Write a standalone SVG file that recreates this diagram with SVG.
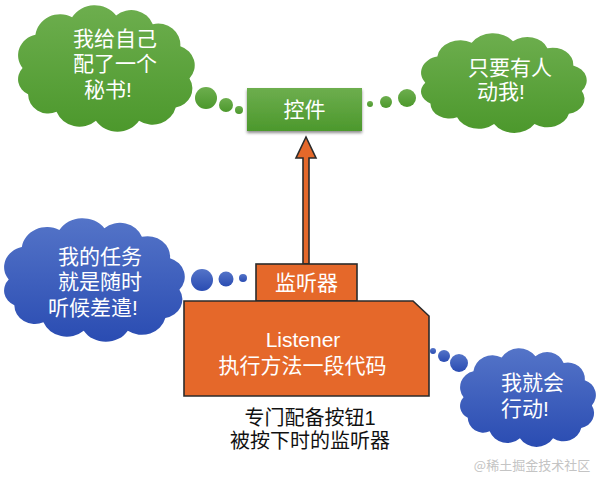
<svg xmlns="http://www.w3.org/2000/svg" xmlns:xlink="http://www.w3.org/1999/xlink" width="603" height="492" viewBox="0 0 603 492">
<style>
.cjk{font-family:"Liberation Sans","Noto Sans CJK SC","Noto Sans CJK JP",sans-serif;font-size:21px;fill:#ffffff}
.lat{font-family:"Liberation Sans","Noto Sans",sans-serif;font-size:21px;fill:#ffffff}
.cap{font-family:"Liberation Sans","Noto Sans CJK SC","Noto Sans CJK JP",sans-serif;font-size:20px;fill:#111111}
.org{fill:#e5682a;stroke:#2b2b2b;stroke-width:1.6}
.g{fill:url(#gGreen)}
.b{fill:url(#gBlue)}
</style>
<defs>
<linearGradient id="gGreen" x1="0" y1="0" x2="0" y2="1">
<stop offset="0" stop-color="#6dae4e"/>
<stop offset="1" stop-color="#4c982c"/>
</linearGradient>
<linearGradient id="gBlue" x1="0" y1="0" x2="0" y2="1">
<stop offset="0" stop-color="#5474c8"/>
<stop offset="1" stop-color="#2a4cb2"/>
</linearGradient>
<path id="cloud" d="M8 70 A24 24 0 0 1 22 32 A27 27 0 0 1 62 12 A29 29 0 0 1 110 10 A25 25 0 0 1 150 20 A24 24 0 0 1 180 45 A23 23 0 0 1 190 82 A22 22 0 0 1 175 115 A26 26 0 0 1 135 130 A28 28 0 0 1 88 130 A27 27 0 0 1 45 120 A22 22 0 0 1 14 100 A19 19 0 0 1 8 70 Z"/>
<filter id="sh" x="-10%" y="-10%" width="120%" height="140%">
<feDropShadow dx="0" dy="2" stdDeviation="1.5" flood-color="#000" flood-opacity="0.45"/>
</filter>
</defs>
<rect width="603" height="492" fill="#ffffff"/>

<g id="cloud-secretary">
<use xlink:href="#cloud" class="g" transform="translate(15.25 6.75) scale(0.917 0.876)"/>
<circle class="g" cx="206" cy="98" r="11"/>
<circle class="g" cx="226" cy="105" r="7"/>
<circle class="g" cx="239" cy="110" r="4"/>
<text class="cjk" x="73" y="46">我给自己</text>
<text class="cjk" x="73" y="71">配了一个</text>
<text class="cjk" x="84" y="97">秘书!</text>
</g>

<g id="control">
<rect x="247" y="88" width="115" height="43" fill="url(#gGreen)" filter="url(#sh)"/>
<text class="cjk" x="304.5" y="117" text-anchor="middle">控件</text>
</g>

<g id="cloud-touch">
<use xlink:href="#cloud" class="g" transform="translate(418.4 34.4) scale(0.86 0.69)"/>
<circle class="g" cx="370" cy="104" r="3"/>
<circle class="g" cx="386" cy="102" r="6"/>
<circle class="g" cx="407" cy="98" r="9"/>
<text class="cjk" x="468" y="75">只要有人</text>
<text class="cjk" x="477" y="99">动我!</text>
</g>

<g id="cloud-waiting">
<use xlink:href="#cloud" class="b" transform="translate(1.2 219.7) scale(0.938 0.855)"/>
<circle class="b" cx="202" cy="280" r="11"/>
<circle class="b" cx="226" cy="279" r="7.5"/>
<circle class="b" cx="243" cy="278" r="4"/>
<text class="cjk" x="58" y="264">我的任务</text>
<text class="cjk" x="58" y="289">就是随时</text>
<text class="cjk" x="48" y="315">听候差遣!</text>
</g>

<g id="cloud-act">
<use xlink:href="#cloud" class="b" transform="translate(457.9 349.4) scale(0.705 0.683)"/>
<circle class="b" cx="433" cy="351" r="3"/>
<circle class="b" cx="444" cy="356" r="6"/>
<circle class="b" cx="459" cy="363" r="9"/>
<text class="cjk" x="501" y="390">我就会</text>
<text class="cjk" x="501" y="416">行动!</text>
</g>

<g id="connectors">
<path class="org" d="M303 264 L303 158 L296 158 L306 137 L316 158 L309 158 L309 264 Z"/>
</g>

<g id="listener-tab">
<rect class="org" x="256" y="264" width="101" height="37"/>
<text class="cjk" x="306.5" y="290" text-anchor="middle">监听器</text>
</g>

<g id="listener">
<path class="org" d="M184 301 L413 301 L429 316 L429 396 L184 396 Z"/>
<text class="lat" x="303" y="347" text-anchor="middle">Listener</text>
<text class="cjk" x="302.5" y="373" text-anchor="middle">执行方法一段代码</text>
</g>

<g id="caption">
<text class="cap" x="310" y="425" text-anchor="middle">专门配备按钮1</text>
<text class="cap" x="310" y="448" text-anchor="middle">被按下时的监听器</text>
</g>

<text x="532" y="470" text-anchor="middle" font-family="&quot;Noto Sans CJK SC&quot;,sans-serif" font-size="13" fill="#c4c4c4">@稀土掘金技术社区</text>
</svg>
